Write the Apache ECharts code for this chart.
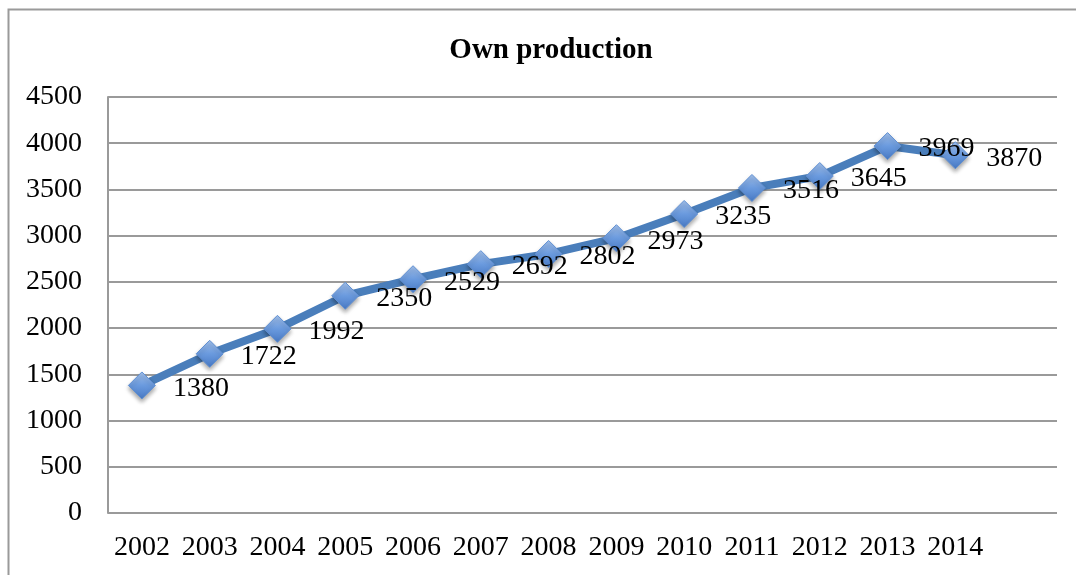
<!DOCTYPE html>
<html>
<head>
<meta charset="utf-8">
<script src="https://cdn.jsdelivr.net/npm/echarts@6/dist/echarts.min.js"></script>
<style>
  html, body { margin: 0; padding: 0; background: #fff; }
  #chart { width: 1076px; height: 575px; }
</style>
</head>
<body>
<div id="chart"></div>
<script>
// last slot is an empty category, as in the source spreadsheet
const years = ["2002", "2003", "2004", "2005", "2006", "2007", "2008",
  "2009", "2010", "2011", "2012", "2013", "2014", ""];
const production = [1380, 1722, 1992, 2350, 2529, 2692, 2802,
  2973, 3235, 3516, 3645, 3969, 3870, null];

const FONT = "'Liberation Serif', 'DejaVu Serif', serif";
const GRID_COLOR = "#9a9a9a";

const chart = echarts.init(document.getElementById("chart"));

chart.setOption({
  animation: false,
  title: {
    text: "Own production",
    left: 546,
    textAlign: "center",
    top: 31,
    textStyle: { fontFamily: FONT, fontWeight: "bold", fontSize: 29, color: "#000" },
  },
  graphic: [
    {
      type: "rect",
      shape: { x: 8.5, y: 9.5, width: 1200, height: 700 },
      style: { fill: "none", stroke: "#9a9a9a", lineWidth: 2 },
      silent: true,
    },
  ],
  grid: { left: 108, right: 19, top: 97, bottom: 62, containLabel: false },
  xAxis: {
    type: "category",
    data: years,
    boundaryGap: true,
    axisLine: { show: false },
    axisTick: { show: false },
    axisLabel: { color: "#000", fontFamily: FONT, fontSize: 28, margin: 21, interval: 0 },
  },
  yAxis: {
    type: "value",
    min: 0,
    max: 4500,
    interval: 500,
    axisLine: { show: true, lineStyle: { color: GRID_COLOR, width: 2 } },
    axisTick: { show: false },
    axisLabel: {
      color: "#000", fontFamily: FONT, fontSize: 28, margin: 26,
      formatter: (v) => String(v),
    },
    splitLine: { lineStyle: { color: GRID_COLOR, width: 2 } },
  },
  series: [
    {
      name: "Own production",
      type: "line",
      data: production,
      symbol: "diamond",
      symbolSize: 27,
      lineStyle: { color: "#4a7ebb", width: 8 },
      itemStyle: {
        color: new echarts.graphic.LinearGradient(0, 0, 0, 1, [
          { offset: 0, color: "#a4c2ec" },
          { offset: 0.5, color: "#6a9ade" },
          { offset: 1, color: "#4779c4" },
        ]),
        borderColor: "#5f8fd2",
        borderWidth: 1,
        shadowBlur: 4,
        shadowOffsetY: 3,
        shadowColor: "rgba(0,0,0,0.35)",
      },
      label: {
        show: true,
        position: "right",
        distance: 17,
        offset: [0, 3],
        color: "#000",
        fontFamily: FONT,
        fontSize: 28,
      },
    },
  ],
});
</script>
</body>
</html>
